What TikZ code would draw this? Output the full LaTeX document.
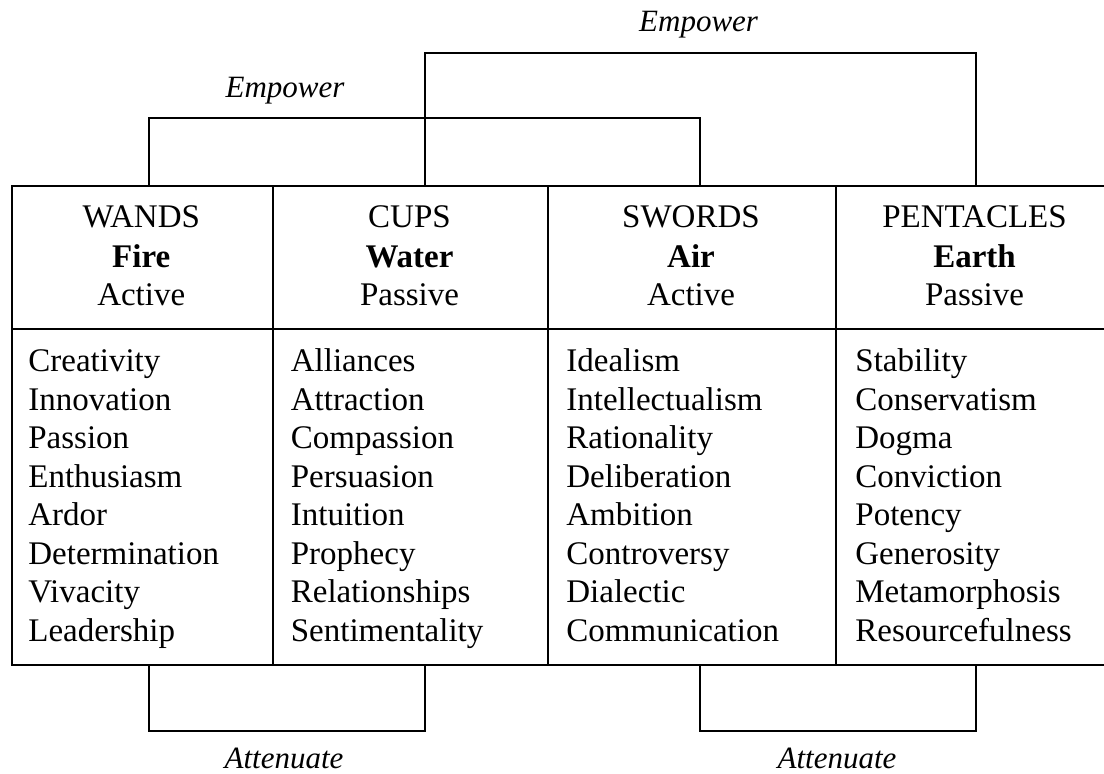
\documentclass[tikz,border=0pt]{standalone}
\usepackage{fontspec}
\setmainfont{Liberation Serif}
\begin{document}
\begin{tikzpicture}[x=0.5pt,y=-0.5pt,
  cell/.style={draw, line width=1pt, rectangle, inner sep=0pt, anchor=north west},
  hd/.style={anchor=base, inner sep=0pt, font=\fontsize{16.5}{19.5}\selectfont},
  item/.style={anchor=base west, inner sep=0pt, font=\fontsize{16.5}{19.5}\selectfont},
  lbl/.style={anchor=base, inner sep=0pt, font=\fontsize{15.5}{18}\selectfont\itshape},
  link/.style={line width=1pt}]
\useasboundingbox (0,0) rectangle (1104,774);
% header cells
\node[cell, minimum width=130.75pt, minimum height=71.5pt] (wH) at (10.5,185) {};
\node[cell, minimum width=137.5pt, minimum height=71.5pt] (cH) at (272,185) {};
\node[cell, minimum width=144pt, minimum height=71.5pt] (sH) at (547,185) {};
\node[cell, minimum width=139.5pt, minimum height=71.5pt] (pH) at (835,185) {};
% body cells
\node[cell, minimum width=130.75pt, minimum height=168pt] (wB) at (10.5,328) {};
\node[cell, minimum width=137.5pt, minimum height=168pt] (cB) at (272,328) {};
\node[cell, minimum width=144pt, minimum height=168pt] (sB) at (547,328) {};
\node[cell, minimum width=139.5pt, minimum height=168pt] (pB) at (835,328) {};
% headers
\node[hd] (w1) at (141.25,228) {WANDS};
\node[hd] (w2) at (141.25,268) {\bfseries Fire};
\node[hd] (w3) at (141.25,306) {Active};
\node[hd] (c1) at (409.5,228) {CUPS};
\node[hd] (c2) at (409.5,268) {\bfseries Water};
\node[hd] (c3) at (409.5,306) {Passive};
\node[hd] (s1) at (691,228) {SWORDS};
\node[hd] (s2) at (691,268) {\bfseries Air};
\node[hd] (s3) at (691,306) {Active};
\node[hd] (p1) at (974.5,228) {PENTACLES};
\node[hd] (p2) at (974.5,268) {\bfseries Earth};
\node[hd] (p3) at (974.5,306) {Passive};
% items
\foreach \t [count=\i from 0] in {Creativity,Innovation,Passion,Enthusiasm,Ardor,Determination,Vivacity,Leadership}
  \node[item] (wi\i) at (28,{372+38.5*\i}) {\t};
\foreach \t [count=\i from 0] in {Alliances,Attraction,Compassion,Persuasion,Intuition,Prophecy,Relationships,Sentimentality}
  \node[item] (ci\i) at (290.5,{372+38.5*\i}) {\t};
\foreach \t [count=\i from 0] in {Idealism,Intellectualism,Rationality,Deliberation,Ambition,Controversy,Dialectic,Communication}
  \node[item] (si\i) at (566,{372+38.5*\i}) {\t};
\foreach \t [count=\i from 0] in {Stability,Conservatism,Dogma,Conviction,Potency,Generosity,Metamorphosis,Resourcefulness}
  \node[item] (pi\i) at (855,{372+38.5*\i}) {\t};
% connectors
\draw[link] ([xshift=3.375pt]wH.north) -- ++(0,-66.5) -| ([xshift=4pt]sH.north);
\draw[link] ([xshift=7.25pt]cH.north) -- ++(0,-132.3) -| ([xshift=0.25pt]pH.north);
\draw[link] ([xshift=3.375pt]wB.south) -- ++(0,65.5) -| ([xshift=7.25pt]cB.south);
\draw[link] ([xshift=4pt]sB.south) -- ++(0,65.5) -| ([xshift=0.25pt]pB.south);
% labels
\node[lbl] (e1) at (285,98) {Empower};
\node[lbl] (e2) at (698.6,32) {Empower};
\node[lbl] (a1) at (284,769) {Attenuate};
\node[lbl] (a2) at (837,769) {Attenuate};
\end{tikzpicture}
\end{document}
